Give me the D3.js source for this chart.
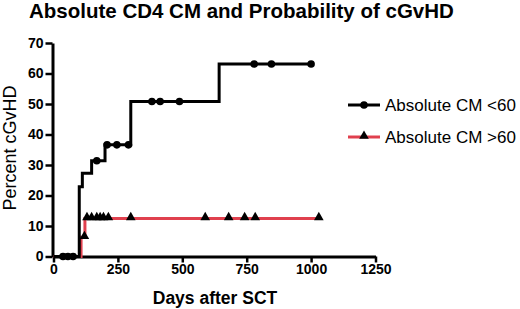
<!DOCTYPE html>
<html>
<head>
<meta charset="utf-8">
<script src="https://cdn.jsdelivr.net/npm/d3@7"></script>
<style>
  body { margin: 0; background: #fff; }
  svg { display: block; font-family: "Liberation Sans", Arial, sans-serif; }
</style>
</head>
<body>
<div id="chart"></div>
<script>
// step points [day, percent] and censor days
const lowSteps = [[0, 0], [100, 22.9], [112, 27.3], [148, 31.4], [200, 36.6], [300, 50.8], [643, 63.1], [1000, 63.1]];
const lowCensor = [37, 56, 76, 168, 208, 246, 291, 382, 414, 489, 779, 846, 1000];
const highSteps = [[0, 0], [107, 6.3], [122, 12.5], [1030, 12.5]];
const highCensor = [120, 130, 148, 168, 181, 194, 213, 300, 589, 680, 742, 783, 1030];
const seriesNames = ["Absolute CM <60", "Absolute CM >60"];
const xTicks = [0, 250, 500, 750, 1000, 1250];
const yTicks = [0, 10, 20, 30, 40, 50, 60, 70];

const width = 520, height = 309;
const svg = d3.select("#chart").append("svg")
  .attr("width", width).attr("height", height);

const x = d3.scaleLinear([0, 1250], [53.5, 375.5]);
const y = d3.scaleLinear([0, 70], [256.5, 43]);

// value of a step function at day t
const stepAt = (steps, t) => {
  let v = 0;
  steps.forEach(s => { if (s[0] <= t) v = s[1]; });
  return v;
};

const line = d3.line()
  .x(d => x(d[0]))
  .y(d => y(d[1]))
  .curve(d3.curveStepAfter);

// axes
const xAxis = svg.append("g")
  .attr("transform", `translate(0,${y(0)})`)
  .call(d3.axisBottom(x).tickValues(xTicks).tickFormat(d3.format("d")).tickSize(6).tickSizeOuter(0).tickPadding(2));
const yAxis = svg.append("g")
  .attr("transform", `translate(${x(0) - 1},0)`)
  .call(d3.axisLeft(y).tickValues(yTicks).tickSize(7).tickSizeOuter(0).tickPadding(2));

[xAxis, yAxis].forEach(a => {
  a.attr("font-size", null).attr("font-family", null);
  a.select(".domain").attr("stroke-width", 3);
  a.selectAll(".tick line").attr("stroke-width", 2.5);
  a.selectAll("text")
    .style("font-size", "14px")
    .style("font-weight", "bold")
    .style("font-family", "'Liberation Sans', Arial, sans-serif")
    .attr("fill", "#000");
});

// curves
svg.append("path")
  .datum(highSteps)
  .attr("fill", "none")
  .attr("stroke", "#e0404e")
  .attr("stroke-width", 3)
  .attr("d", line);

svg.append("path")
  .datum(lowSteps)
  .attr("fill", "none")
  .attr("stroke", "#000")
  .attr("stroke-width", 3)
  .attr("d", line);

const tri = d3.symbol().type(d3.symbolTriangle).size(40);

svg.append("g")
  .selectAll("path")
  .data(highCensor)
  .join("path")
  .attr("d", tri)
  .attr("transform", d => `translate(${x(d)},${y(stepAt(highSteps, d)) - 1})`)
  .attr("fill", "#000");

svg.append("g")
  .selectAll("circle")
  .data(lowCensor)
  .join("circle")
  .attr("cx", d => x(d))
  .attr("cy", d => y(stepAt(lowSteps, d)))
  .attr("r", 3.8)
  .attr("fill", "#000");

// labels
svg.append("text")
  .attr("x", 29)
  .attr("y", 18)
  .style("font-size", "20.5px")
  .style("font-weight", "bold")
  .text("Absolute CD4 CM and Probability of cGvHD");

svg.append("text")
  .attr("text-anchor", "middle")
  .attr("transform", `translate(16,148) rotate(-90)`)
  .style("font-size", "18px")
  .text("Percent cGvHD");

svg.append("text")
  .attr("text-anchor", "middle")
  .attr("x", 215)
  .attr("y", 304)
  .style("font-size", "17.5px")
  .style("font-weight", "bold")
  .text("Days after SCT");

// legend
const legend = svg.selectAll(".legend-group")
  .data(seriesNames)
  .join("g")
  .attr("class", "legend-group")
  .attr("transform", (d, i) => `translate(348,${105 + i * 32})`);

legend.append("line")
  .attr("x1", 0).attr("x2", 32)
  .attr("stroke", (d, i) => i === 0 ? "#000" : "#e0404e")
  .attr("stroke-width", 3);

legend.each(function(d, i) {
  const g = d3.select(this);
  if (i === 0) g.append("circle").attr("cx", 16).attr("r", 3.8).attr("fill", "#000");
  else g.append("path").attr("d", tri).attr("transform", "translate(16,-1)").attr("fill", "#000");
});

legend.append("text")
  .attr("x", 37)
  .attr("y", 6)
  .style("font-size", "17px")
  .text(d => d);
</script>
</body>
</html>
